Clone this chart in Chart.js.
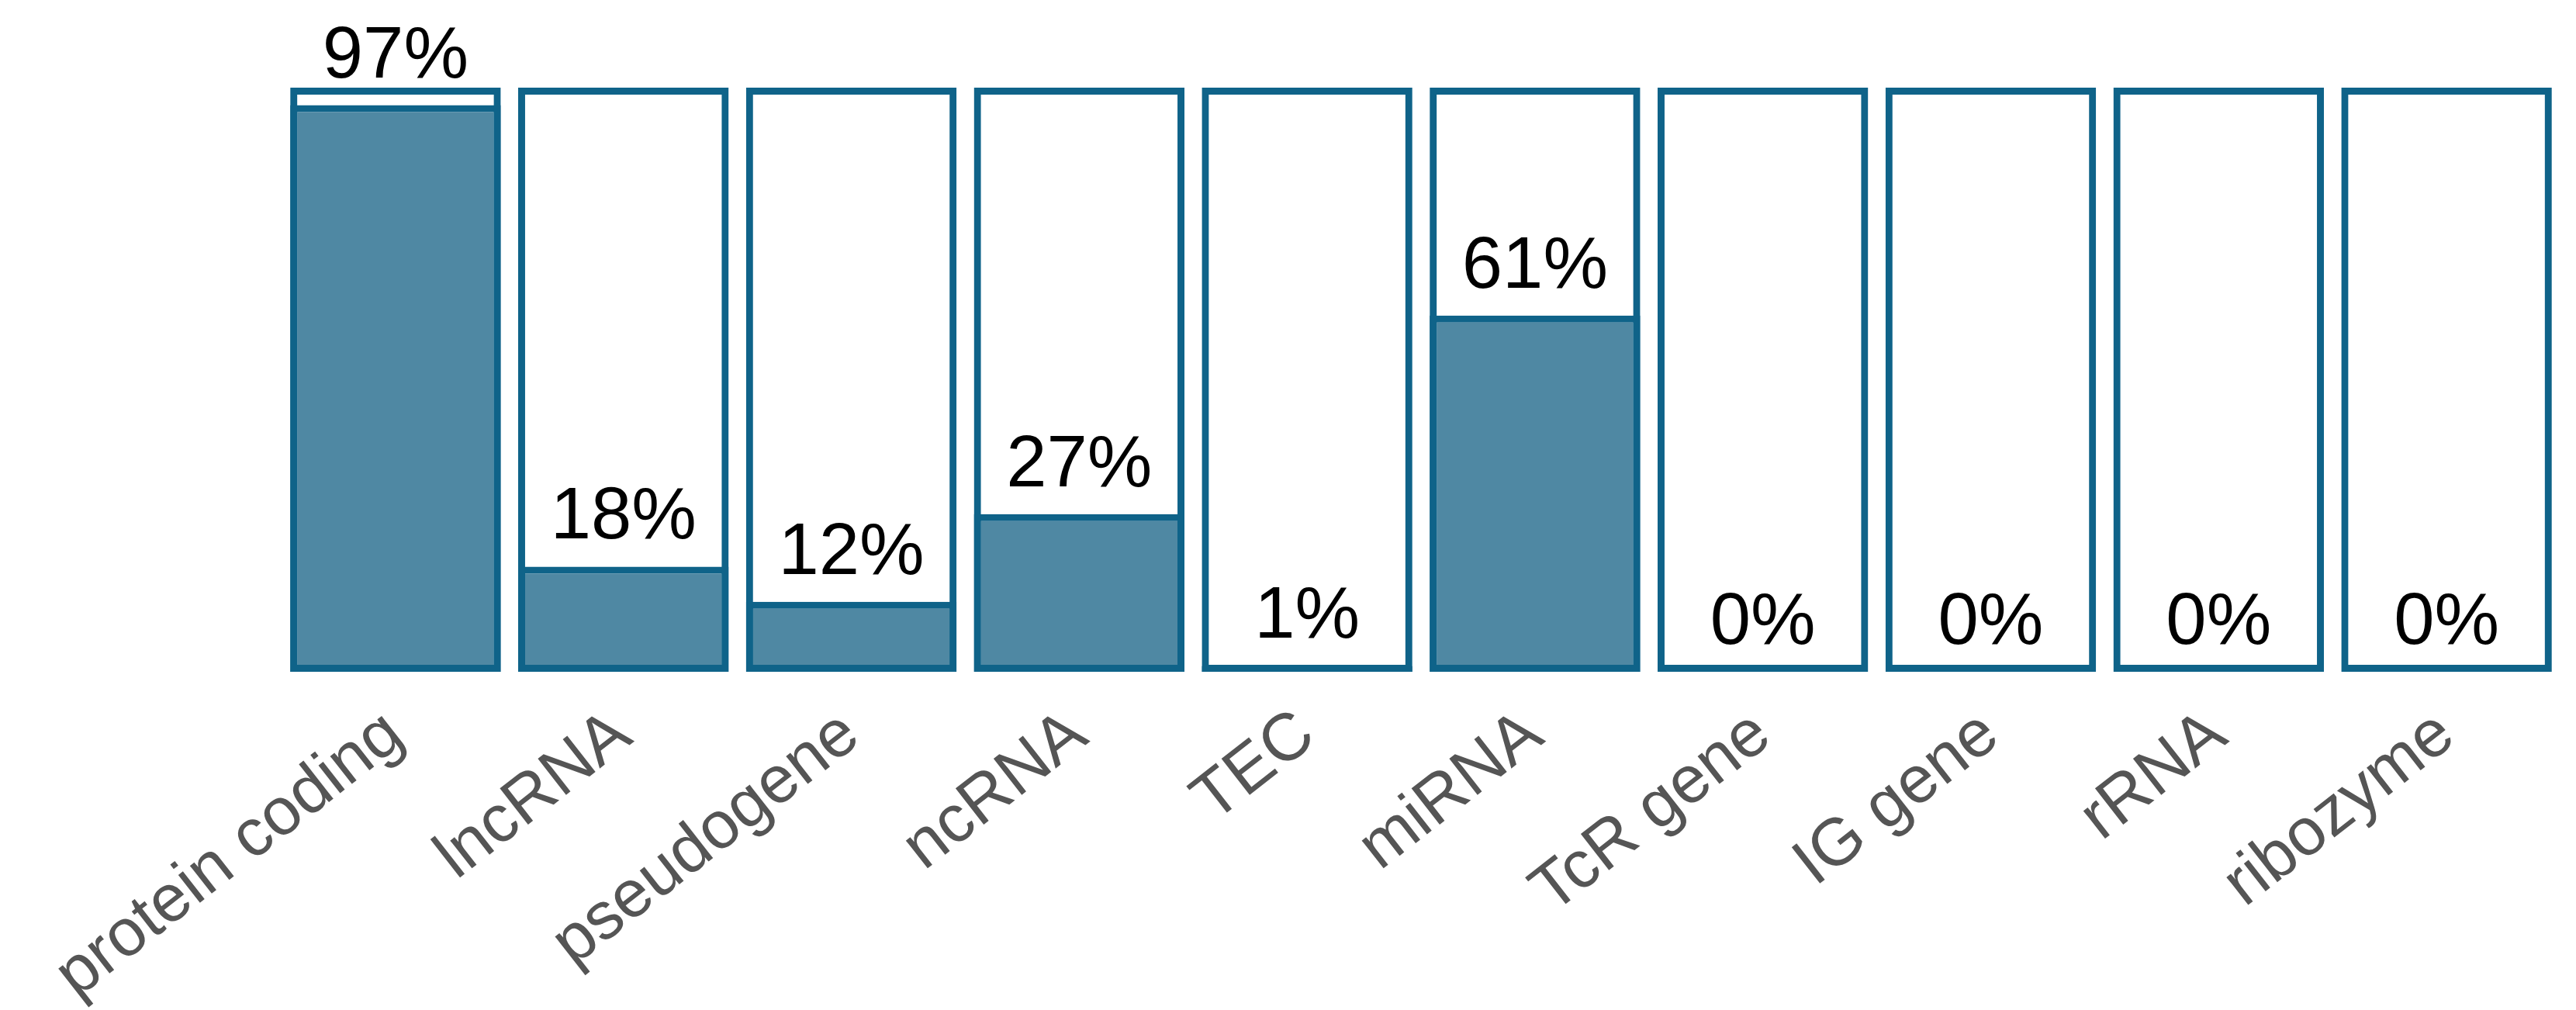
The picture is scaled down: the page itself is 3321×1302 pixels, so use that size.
<!DOCTYPE html>
<html><head><meta charset="utf-8">
<script src="https://cdn.jsdelivr.net/npm/chart.js@4/dist/chart.umd.min.js"></script>
<style>html,body{margin:0;background:#fff}#w{width:3321px;height:1302px}</style>
</head><body><div id="w"><canvas id="c"></canvas></div>
<script>
const categories = ["protein coding","lncRNA","pseudogene","ncRNA","TEC","miRNA","TcR gene","IG gene","rRNA","ribozyme"];
const percentValues = [97,18,12,27,1,61,0,0,0,0];
const fullValues = [100,100,100,100,100,100,100,100,100,100];

const edge = '#0f6389', fill = '#4f88a3';
const valueLabels = {
  id:'valueLabels',
  afterDatasetsDraw(chart){
    const ctx = chart.ctx, meta = chart.getDatasetMeta(0);
    ctx.save();
    ctx.font = '94px "Liberation Sans", Arial, sans-serif';
    ctx.fillStyle = '#000'; ctx.textAlign = 'center'; ctx.textBaseline = 'alphabetic';
    meta.data.forEach((bar,i)=>{
      const y = Math.min(bar.y - 36, 833);
      ctx.fillText(percentValues[i] + '%', bar.x, y);
    });
    ctx.restore();
  }
};
new Chart(document.getElementById('c'), {
  type:'bar',
  data:{labels:categories, datasets:[
    {data:percentValues, backgroundColor:fill, borderColor:edge, borderWidth:9, borderSkipped:false, grouped:false, order:2},
    {data:fullValues, backgroundColor:'rgba(0,0,0,0)', borderColor:edge, borderWidth:9, borderSkipped:false, grouped:false, order:1}
  ]},
  options:{
    responsive:true, maintainAspectRatio:false, devicePixelRatio:1, animation:false,
    layout:{padding:{left:363,right:20,top:113,bottom:0}},
    plugins:{legend:{display:false}, tooltip:{enabled:false}},
    datasets:{bar:{categoryPercentage:1, barPercentage:0.924}},
    scales:{
      x:{grid:{display:false}, border:{display:false},
         ticks:{color:'#555', font:{size:86, family:'"Liberation Sans", Arial, sans-serif'}, minRotation:38, maxRotation:38, autoSkip:false, padding:22},
         afterFit(s){ s.height = 436; }},
      y:{display:false, min:0, max:100}
    }
  },
  plugins:[valueLabels]
});
</script></body></html>
